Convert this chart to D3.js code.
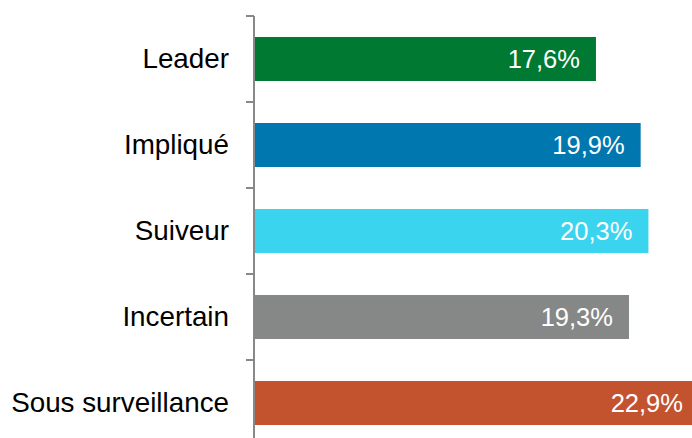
<!DOCTYPE html>
<html><head><meta charset="utf-8">
<script src="https://cdn.jsdelivr.net/npm/d3@7"></script>
<style>body{margin:0;background:#fff}svg{display:block}</style>
</head><body>
<svg id="c" width="692" height="438"></svg>
<script>
const categories = ["Leader", "Impliqué", "Suiveur", "Incertain", "Sous surveillance"];
const values = [17.6, 19.9, 20.3, 19.3, 22.9];
const colors = ["#007A33", "#0077AE", "#3AD4EE", "#858887", "#C3532F"];
const valueLabels = ["17,6%", "19,9%", "20,3%", "19,3%", "22,9%"];

const svg = d3.select("#c");
const x0 = 254;
const x = d3.scaleLinear().domain([0, 25]).range([x0, x0 + 25 * 19.43]);
const y = d3.scaleBand().domain(categories).range([16, 16 + 86 * categories.length]).padding(0);
const barH = 44;
const off = (y.bandwidth() - barH) / 2;

const data = categories.map((c, i) => ({c, v: values[i], col: colors[i], lab: valueLabels[i]}));

svg.selectAll("rect.bar").data(data).join("rect")
  .attr("class", "bar")
  .attr("x", x(0))
  .attr("y", d => y(d.c) + off)
  .attr("width", d => x(d.v) - x(0))
  .attr("height", barH)
  .attr("fill", d => d.col);

svg.selectAll("text.val").data(data).join("text")
  .attr("class", "val")
  .attr("x", d => x(d.v) - 16)
  .attr("y", d => y(d.c) + y.bandwidth() / 2)
  .attr("dy", "0.35em")
  .attr("text-anchor", "end")
  .attr("fill", "#fff")
  .style("font-family", "Arial, 'Liberation Sans', sans-serif")
  .style("font-size", "25.5px")
  .text(d => d.lab);

// axis labels
const ax = svg.append("g").attr("transform", `translate(${x0},0)`)
  .call(d3.axisLeft(y).tickSize(0).tickPadding(25));
ax.select(".domain").remove();
ax.selectAll("text")
  .attr("fill", "#000")
  .style("font-family", "Arial, 'Liberation Sans', sans-serif")
  .style("font-size", "27.8px");

// axis line and boundary ticks
const bounds = categories.map(c => y(c)).concat([y.range()[1]]);
svg.append("line").attr("x1", x0).attr("x2", x0).attr("y1", 16).attr("y2", 438)
  .attr("stroke", "#888").attr("stroke-width", 2);
svg.selectAll("line.tk").data(bounds).join("line").attr("class", "tk")
  .attr("x1", x0 - 8).attr("x2", x0).attr("y1", d => d).attr("y2", d => d)
  .attr("stroke", "#888").attr("stroke-width", 2);
</script>
</body></html>
